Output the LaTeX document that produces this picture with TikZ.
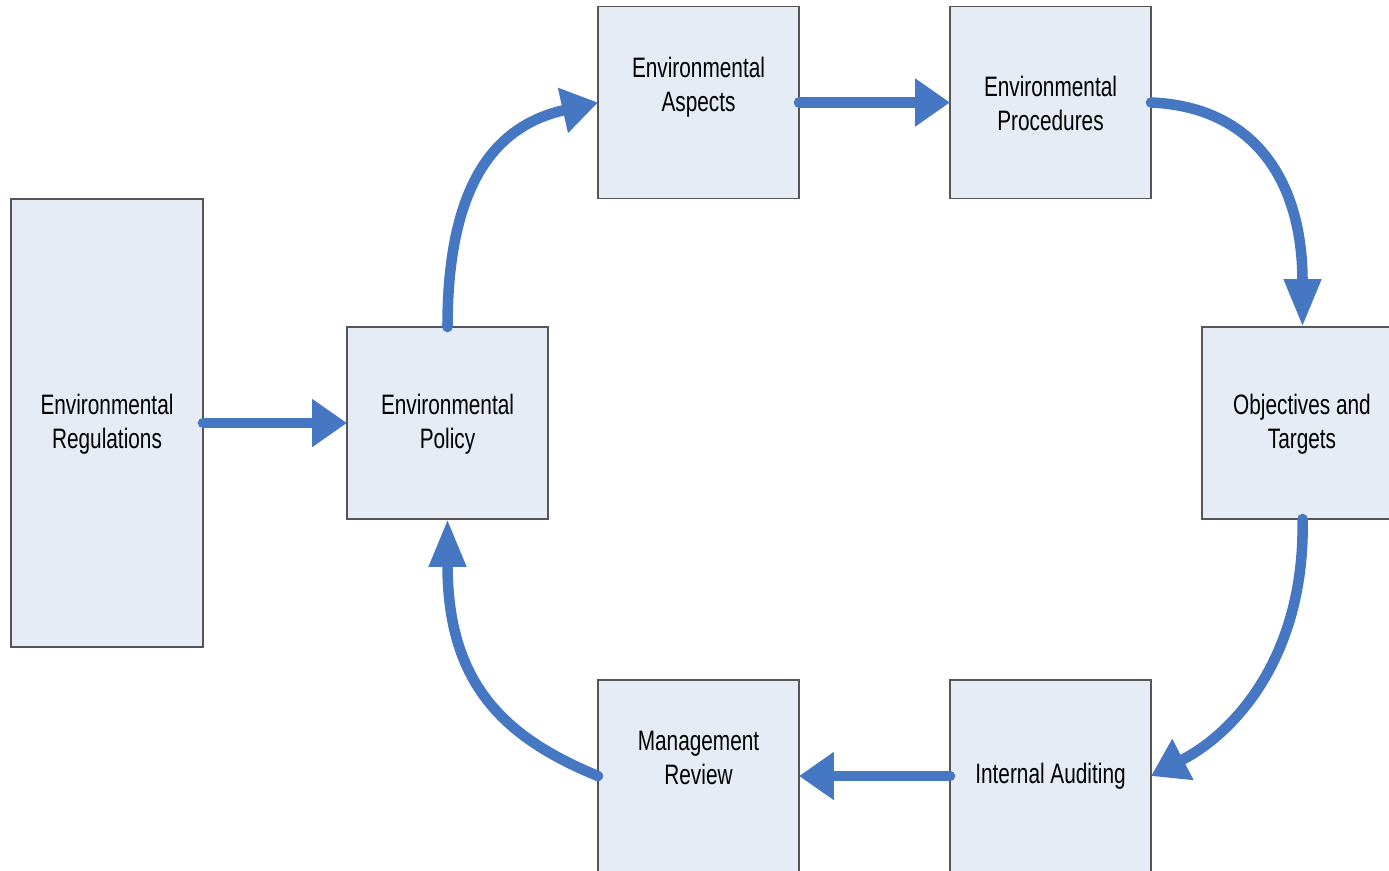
\documentclass[tikz,border=0pt]{standalone}
\usepackage{fontspec}
\setmainfont{Liberation Sans}[FakeStretch=0.74]
\usetikzlibrary{arrows.meta,calc}
\definecolor{arrowblue}{RGB}{70,119,194}
\definecolor{boxfill}{RGB}{230,236,246}
\definecolor{boxline}{RGB}{85,85,85}
\begin{document}
\begin{tikzpicture}[x=0.02cm,y=-0.02cm,
  box/.style={draw=boxline,line width=0.7pt,fill=boxfill,inner sep=0pt,outer sep=0pt,
    minimum width=4.02cm,minimum height=3.84cm},
  lbl/.style={align=center,inner sep=0pt,font=\fontsize{16pt}{19.4pt}\selectfont},
  flow/.style={draw=arrowblue,line width=6pt,line cap=round},
  htip/.style={-{Triangle[length=0.7cm,width=0.92cm,fill=arrowblue]}},
  vtip/.style={-{Triangle[length=0.96cm,width=0.7cm,fill=arrowblue]}},
  dtip/.style={-{Triangle[length=0.72cm,width=0.88cm,fill=arrowblue]}}]
\useasboundingbox (0,0) rectangle (1389,870);
\clip (0,0) rectangle (1389,870);
% boxes
\node[box,minimum width=3.84cm,minimum height=8.96cm] (reg) at (107,423) {};
\node[box] (pol) at (447.5,423) {};
\node[box] (asp) at (698.5,102.5) {};
\node[box] (pro) at (1050.5,102.5) {};
\node[box] (obj) at (1302.5,423) {};
\node[box] (aud) at (1050.5,776) {};
\node[box] (man) at (698.5,776) {};
% labels
\node[lbl] (regt) at (107,424) {Environmental\\Regulations};
\node[lbl] (polt) at (447.5,424) {Environmental\\Policy};
\node[lbl] (aspt) at (698.5,87) {Environmental\\Aspects};
\node[lbl] (prot) at (1050.5,103) {Environmental\\Procedures};
\node[lbl] (objt) at (1302,424) {Objectives and\\Targets};
\node[lbl] (audt) at (1050.5,776) {Internal Auditing};
\node[lbl] (mant) at (698.5,758) {Management\\Review};
% connectors
\draw[flow,htip] (reg.east) -- (pol.west);
\draw[flow,dtip] (pol.north) .. controls ($(pol.north)+(0,-150)$) and ($(asp.west)+(-98,22)$) .. (asp.west);
\draw[flow,htip] (asp.east) -- (pro.west);
\draw[flow,vtip] (pro.east) .. controls ($(pro.east)+(100,4)$) and ($(obj.north)+(0,-150)$) .. (obj.north);
\draw[flow,dtip] (obj.south) .. controls ($(obj.south)+(3,131)$) and ($(aud.east)+(89,-46)$) .. (aud.east);
\draw[flow,htip] (aud.west) -- (man.east);
\draw[flow,vtip] (man.west) .. controls ($(man.west)+(-98,-40)$) and ($(pol.south)+(0,161)$) .. (pol.south);
\end{tikzpicture}
\end{document}
